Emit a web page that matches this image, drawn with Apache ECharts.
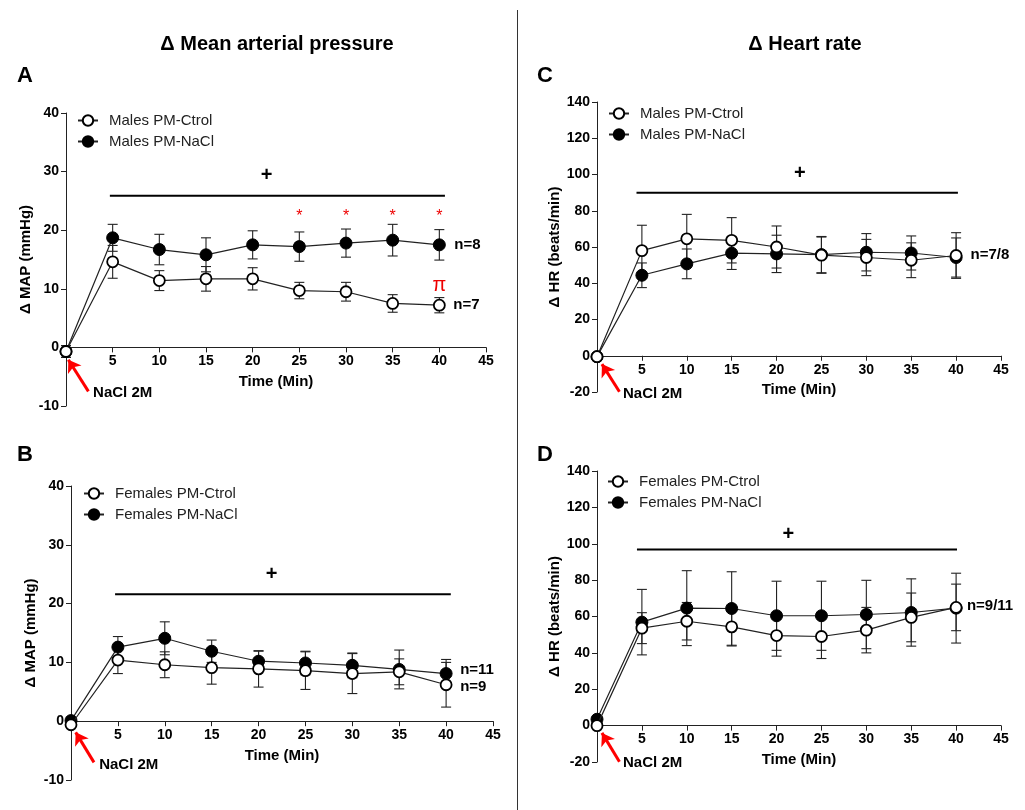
<!DOCTYPE html>
<html><head><meta charset="utf-8">
<script src="https://cdn.jsdelivr.net/npm/echarts@6/dist/echarts.min.js"></script>
<style>html,body{margin:0;padding:0;background:#fff}#c{width:1025px;height:810px}</style>
</head><body><div id="c"></div>
<script>
// ---------- DATA ----------
const times = [0, 5, 10, 15, 20, 25, 30, 35, 40];
const xTicks = [0, 5, 10, 15, 20, 25, 30, 35, 40, 45];

// Panel A: Males, MAP (mmHg)
const A_ctrl     = [-0.7, 14.6, 11.4, 11.7, 11.7, 9.7, 9.5, 7.5, 7.2];
const A_ctrlErr  = [1.0, 2.8, 1.7, 2.1, 1.9, 1.4, 1.6, 1.5, 1.3];
const A_nacl     = [-0.7, 18.7, 16.7, 15.8, 17.5, 17.2, 17.8, 18.3, 17.5];
const A_naclErr  = [1.0, 2.3, 2.6, 2.9, 2.4, 2.5, 2.4, 2.7, 2.6];

// Panel B: Females, MAP (mmHg)
const B_ctrl     = [-0.6, 10.4, 9.6, 9.1, 8.9, 8.6, 8.1, 8.4, 6.2];
const B_ctrlErr  = [0, 2.3, 2.2, 2.8, 3.1, 3.2, 3.4, 2.2, 3.8];
const B_nacl     = [0.1, 12.6, 14.1, 11.9, 10.2, 9.9, 9.5, 8.8, 8.1];
const B_naclErr  = [0, 1.8, 2.8, 1.9, 1.7, 2.0, 2.1, 3.3, 2.4];

// Panel C: Males, HR (beats/min)
const C_ctrl     = [-0.5, 58.0, 64.5, 63.7, 60.0, 55.5, 54.2, 52.7, 55.3];
const C_ctrlErr  = [0, 14, 13.5, 12.5, 11.6, 10, 10, 9.6, 12.6];
const C_nacl     = [-0.5, 44.4, 50.7, 56.6, 56.2, 55.8, 57.1, 56.7, 54.2];
const C_naclErr  = [0, 6.8, 8.2, 9, 10.3, 10, 10.3, 9.4, 10.8];

// Panel D: Females, HR (beats/min)
const D_ctrl     = [0, 53.6, 57.4, 54.3, 49.5, 49.0, 52.5, 59.5, 65.0];
const D_ctrlErr  = [0, 8.5, 10.3, 10.5, 11.3, 12.1, 12.5, 13.4, 12.8];
const D_nacl     = [3.5, 56.9, 64.6, 64.4, 60.4, 60.4, 61.1, 62.2, 64.6];
const D_naclErr  = [0, 18, 20.6, 20.2, 19, 19, 18.8, 18.5, 19.2];

// Significance bars [x0, x1, y]
const A_sig = [4.7, 40.6, 25.9];
const B_sig = [4.7, 40.5, 21.6];
const C_sig = [4.4, 40.2, 90.0];
const D_sig = [4.45, 40.1, 96.8];

// Text annotations [x, y, text]
const A_black = [[21.5, 29.3, '+']];
const A_red   = [[25, 22.3, '*'], [30, 22.3, '*'], [35, 22.3, '*'], [40, 22.3, '*']];
const A_pi    = [[40, 10.6, 'π']];
const A_n     = [[41.6, 17.5, 'n=8'], [41.5, 7.2, 'n=7']];
const B_black = [[21.4, 25.0, '+']];
const B_n     = [[41.5, 8.8, 'n=11'], [41.5, 5.8, 'n=9']];
const C_black = [[22.6, 100.8, '+']];
const C_n     = [[41.6, 55.5, 'n=7/8']];
const D_black = [[21.3, 105.3, '+']];
const D_n     = [[41.2, 65.6, 'n=9/11']];

// Arrow "NaCl 2M": [tailX, tailY, headX, headY, textX, textY]
const A_arrow = [2.4, -7.5, 0.25, -2.1, 2.9, -7.7];
const B_arrow = [2.45, -7.0, 0.5, -1.9, 3.0, -7.4];
const C_arrow = [2.5, -19.9, 0.55, -4.6, 2.9, -20.8];
const D_arrow = [2.5, -19.9, 0.55, -4.0, 2.9, -20.5];

const legendA = ['Males PM-Ctrol', 'Males PM-NaCl'];
const legendB = ['Females PM-Ctrol', 'Females PM-NaCl'];

// ---------- BUILD ----------
const FONT = '"Liberation Sans", Arial, sans-serif';
const chart = echarts.init(document.getElementById('c'), null, {renderer: 'canvas'});

const grids = [
  {left: 66, top: 113, width: 420, height: 293},
  {left: 71, top: 486, width: 422, height: 294},
  {left: 597, top: 102, width: 404, height: 290},
  {left: 597, top: 471, width: 404, height: 291}
];
const yCfg = [
  {min: -10, max: 40, interval: 10, name: 'Δ MAP (mmHg)', gap: 33},
  {min: -10, max: 40, interval: 10, name: 'Δ MAP (mmHg)', gap: 33},
  {min: -20, max: 140, interval: 20, name: 'Δ HR (beats/min)', gap: 35},
  {min: -20, max: 140, interval: 20, name: 'Δ HR (beats/min)', gap: 35}
];

const axisLineStyle = {color: '#222', width: 1};
// x axis placed at y = 0: offset derived from the y scale
const xAxes = grids.map((g, i) => ({
  type: 'value', gridIndex: i, position: 'bottom',
  min: xTicks[0], max: xTicks[xTicks.length - 1], interval: 5,
  offset: -g.height * (0 - yCfg[i].min) / (yCfg[i].max - yCfg[i].min),
  axisLine: {show: true, onZero: false, lineStyle: axisLineStyle},
  axisTick: {show: true, length: 5, lineStyle: axisLineStyle},
  axisLabel: {margin: 7, fontFamily: FONT, fontWeight: 'bold', fontSize: 14, color: '#000',
              formatter: v => (v === 0 ? '' : String(v))},
  splitLine: {show: false},
  name: 'Time (Min)', nameLocation: 'middle', nameGap: 27,
  nameTextStyle: {fontFamily: FONT, fontWeight: 'bold', fontSize: 15, color: '#000'}
}));
const yAxes = yCfg.map((c, i) => ({
  type: 'value', gridIndex: i, min: c.min, max: c.max, interval: c.interval,
  axisLine: {show: true, onZero: false, lineStyle: axisLineStyle},
  axisTick: {show: true, length: 5, lineStyle: axisLineStyle},
  axisLabel: {margin: 7, fontFamily: FONT, fontWeight: 'bold', fontSize: 14, color: '#000'},
  splitLine: {show: false},
  name: c.name, nameLocation: 'middle', nameGap: c.gap, nameRotate: 90,
  nameTextStyle: {fontFamily: FONT, fontWeight: 'bold', fontSize: 15, color: '#000'}
}));

function errRender(params, api) {
  const x = api.value(0), y = api.value(1), e = api.value(2);
  if (!e) return null;
  const t = api.coord([x, y + e]), b = api.coord([x, y - e]);
  const w = 5, st = {stroke: '#222', lineWidth: 1.1};
  return {type: 'group', children: [
    {type: 'line', shape: {x1: t[0], y1: t[1], x2: b[0], y2: b[1]}, style: st},
    {type: 'line', shape: {x1: t[0] - w, y1: t[1], x2: t[0] + w, y2: t[1]}, style: st},
    {type: 'line', shape: {x1: b[0] - w, y1: b[1], x2: b[0] + w, y2: b[1]}, style: st}
  ]};
}

function textSeries(i, arr, color, size, weight, align, vAlign) {
  return {
    type: 'scatter', xAxisIndex: i, yAxisIndex: i, symbolSize: 0, silent: true, z: 5, clip: false,
    itemStyle: {color: color, opacity: 1},
    data: arr.map(d => ({value: [d[0], d[1]], label: {formatter: d[2]}})),
    label: {show: true, position: 'inside', align: align, verticalAlign: vAlign,
            color: color, textBorderWidth: 0, textShadowBlur: 0,
            fontFamily: FONT, fontSize: size, fontWeight: weight}
  };
}

const series = [];
function addPanel(i, names, ctrl, ctrlErr, nacl, naclErr, sig, blacks, reds, pis, ns, arrow) {
  series.push({type: 'custom', xAxisIndex: i, yAxisIndex: i, z: 1, silent: true,
    data: times.map((t, k) => [t, ctrl[k], ctrlErr[k]]), renderItem: errRender, encode: {x: 0, y: 1}});
  series.push({type: 'custom', xAxisIndex: i, yAxisIndex: i, z: 1, silent: true,
    data: times.map((t, k) => [t, nacl[k], naclErr[k]]), renderItem: errRender, encode: {x: 0, y: 1}});
  series.push({name: names[1], type: 'line', xAxisIndex: i, yAxisIndex: i, z: 3, clip: false,
    data: times.map((t, k) => [t, nacl[k]]), symbol: 'circle', symbolSize: 12,
    lineStyle: {color: '#222', width: 1.2}, itemStyle: {color: '#000', borderColor: '#000', borderWidth: 1}});
  series.push({name: names[0], type: 'line', xAxisIndex: i, yAxisIndex: i, z: 4, clip: false,
    data: times.map((t, k) => [t, ctrl[k]]), symbol: 'circle', symbolSize: 11,
    lineStyle: {color: '#222', width: 1.2}, itemStyle: {color: '#fff', borderColor: '#000', borderWidth: 1.8}});
  // significance bar + arrow
  series.push({type: 'line', xAxisIndex: i, yAxisIndex: i, z: 2, silent: true, clip: false,
    data: [[sig[0], sig[2]], [sig[1], sig[2]]], showSymbol: false, symbol: 'none',
    lineStyle: {color: '#000', width: 2},
    markLine: {silent: true, symbol: ['none', 'arrow'], symbolSize: [12, 12],
      lineStyle: {color: '#f00', width: 3, type: 'solid'}, label: {show: false},
      data: [[{coord: [arrow[0], arrow[1]]}, {coord: [arrow[2], arrow[3]]}]]}
  });
  series.push(textSeries(i, [[arrow[4], arrow[5], 'NaCl 2M']], '#000', 15, 'bold', 'left', 'middle'));
  series.push(textSeries(i, blacks, '#000', 20, 'bold', 'center', 'middle'));
  if (reds.length) series.push(textSeries(i, reds, '#e00', 16, 'normal', 'center', 'middle'));
  if (pis.length) series.push(textSeries(i, pis, '#e00', 20, 'normal', 'center', 'middle'));
  series.push(textSeries(i, ns, '#000', 15, 'bold', 'left', 'middle'));
}
addPanel(0, legendA, A_ctrl, A_ctrlErr, A_nacl, A_naclErr, A_sig, A_black, A_red, A_pi, A_n, A_arrow);
addPanel(1, legendB, B_ctrl, B_ctrlErr, B_nacl, B_naclErr, B_sig, B_black, [], [], B_n, B_arrow);
addPanel(2, legendA, C_ctrl, C_ctrlErr, C_nacl, C_naclErr, C_sig, C_black, [], [], C_n, C_arrow);
addPanel(3, legendB, D_ctrl, D_ctrlErr, D_nacl, D_naclErr, D_sig, D_black, [], [], D_n, D_arrow);

function legendAt(data, left, top) {
  return {data: data, orient: 'vertical', left: left, top: top, itemWidth: 20, itemHeight: 13, itemGap: 6,
    selectedMode: false,
    textStyle: {fontFamily: FONT, fontSize: 15, color: '#222', padding: [0, 0, 0, 6]}};
}

const option = {
  animation: false,
  backgroundColor: '#fff',
  grid: grids,
  xAxis: xAxes,
  yAxis: yAxes,
  legend: [
    legendAt(legendA, 72, 108),
    legendAt(legendB, 78, 481),
    legendAt(legendA, 603, 101),
    legendAt(legendB, 602, 469)
  ],
  series: series,
  graphic: [
    {type: 'line', shape: {x1: 517.5, y1: 10, x2: 517.5, y2: 810}, style: {stroke: '#333', lineWidth: 1}},
    {type: 'text', x: 277, y: 44, style: {text: 'Δ Mean arterial pressure', font: 'bold 20px ' + FONT, fill: '#000', textAlign: 'center', textVerticalAlign: 'middle'}},
    {type: 'text', x: 805, y: 44, style: {text: 'Δ Heart rate', font: 'bold 20px ' + FONT, fill: '#000', textAlign: 'center', textVerticalAlign: 'middle'}},
    {type: 'text', x: 17, y: 76, style: {text: 'A', font: 'bold 22px ' + FONT, fill: '#000', textVerticalAlign: 'middle'}},
    {type: 'text', x: 17, y: 455, style: {text: 'B', font: 'bold 22px ' + FONT, fill: '#000', textVerticalAlign: 'middle'}},
    {type: 'text', x: 537, y: 76, style: {text: 'C', font: 'bold 22px ' + FONT, fill: '#000', textVerticalAlign: 'middle'}},
    {type: 'text', x: 537, y: 455, style: {text: 'D', font: 'bold 22px ' + FONT, fill: '#000', textVerticalAlign: 'middle'}}
  ]
};
chart.setOption(option);
</script></body></html>
